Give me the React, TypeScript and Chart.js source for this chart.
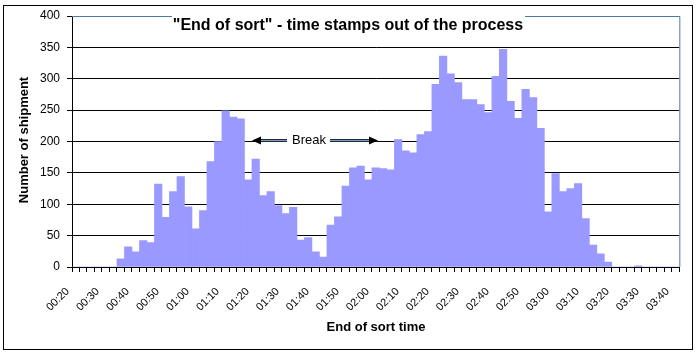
import React, { useEffect, useRef } from "react";
import { Chart, registerables } from "chart.js";

Chart.register(...registerables);

const TITLE = "\"End of sort\" - time stamps out of the process";
const Y_TITLE = "Number of shipment";
const X_TITLE = "End of sort time";
const ANNOTATION = "Break";

const TICK_LABELS = [
  "00:20", "00:30", "00:40", "00:50", "01:00", "01:10", "01:20", "01:30",
  "01:40", "01:50", "02:00", "02:10", "02:20", "02:30", "02:40", "02:50",
  "03:00", "03:10", "03:20", "03:30", "03:40",
];

const SHIPMENTS = [
  0, 0, 0, 0, 0, 0, 13, 32, 24, 42,
  39, 132, 79, 120, 144, 96, 61, 90, 168, 200,
  249, 239, 236, 139, 172, 114, 120, 98, 85, 95,
  43, 47, 24, 16, 67, 80, 129, 158, 161, 139,
  158, 157, 155, 203, 185, 182, 211, 216, 291, 336,
  308, 294, 267, 267, 259, 246, 304, 347, 264, 237,
  283, 270, 221, 88, 149, 120, 125, 133, 77, 35,
  21, 8, 0, 0, 0, 2, 0, 0, 0, 0,
  0,
];

const Y_MIN = 0;
const Y_MAX = 400;
const Y_STEP = 50;

const CATEGORIES: string[] = SHIPMENTS.map((_, i) =>
  i % 4 === 0 ? TICK_LABELS[i / 4] ?? "" : ""
);

const FONT = "'Liberation Sans', Arial, Helvetica, sans-serif";

const decor = {
  id: "decor",
  beforeDraw(chart: any) {
    const ctx = chart.ctx;
    ctx.save();
    ctx.fillStyle = "#ffffff";
    ctx.fillRect(0, 0, chart.width, chart.height);
    ctx.strokeStyle = "#000000";
    ctx.lineWidth = 1;
    ctx.strokeRect(3.5, 5.5, 689, 344);
    ctx.restore();
  },
  afterDraw(chart: any) {
    const ctx = chart.ctx;
    const a = chart.chartArea;
    ctx.save();
    // plot area border (top & right)
    ctx.strokeStyle = "#4f7aa5";
    ctx.lineWidth = 1;
    ctx.beginPath();
    ctx.moveTo(a.left, a.top + 0.5);
    ctx.lineTo(a.right + 0.5, a.top + 0.5);
    ctx.lineTo(a.right + 0.5, a.bottom);
    ctx.stroke();

    // title box
    ctx.fillStyle = "#ffffff";
    ctx.fillRect(172, 8, 353, 33);
    ctx.fillStyle = "#000000";
    ctx.font = `bold 16px ${FONT}`;
    ctx.textAlign = "center";
    ctx.textBaseline = "middle";
    ctx.fillText(TITLE, 348, 26);

    // axis titles
    ctx.font = `bold 13px ${FONT}`;
    ctx.save();
    ctx.translate(24, 140);
    ctx.rotate(-Math.PI / 2);
    ctx.fillText(Y_TITLE, 0, 0);
    ctx.restore();
    ctx.fillText(X_TITLE, 376, 327);

    // Break annotation
    const y = 140.5;
    ctx.fillStyle = "#ffffff";
    ctx.fillRect(287, 132, 43, 17);
    ctx.fillStyle = "#000000";
    ctx.font = `13px ${FONT}`;
    ctx.fillText(ANNOTATION, 309, 140);
    const seg = (x1: number, x2: number) => {
      ctx.lineWidth = 3;
      ctx.strokeStyle = "#1e2c3c";
      ctx.beginPath();
      ctx.moveTo(x1, y);
      ctx.lineTo(x2, y);
      ctx.stroke();
      ctx.lineWidth = 1;
      ctx.strokeStyle = "#7f9cc0";
      ctx.beginPath();
      ctx.moveTo(x1, y);
      ctx.lineTo(x2, y);
      ctx.stroke();
    };
    seg(258, 287);
    seg(330, 372);
    ctx.fillStyle = "#000000";
    ctx.beginPath();
    ctx.moveTo(252, y);
    ctx.lineTo(261, y - 4);
    ctx.lineTo(261, y + 4);
    ctx.closePath();
    ctx.fill();
    ctx.beginPath();
    ctx.moveTo(378, y);
    ctx.lineTo(369, y - 4);
    ctx.lineTo(369, y + 4);
    ctx.closePath();
    ctx.fill();
    ctx.restore();
  },
};

export default function App() {
  const ref = useRef<HTMLCanvasElement | null>(null);

  useEffect(() => {
    if (!ref.current) return;
    const chart = new Chart(ref.current, {
      type: "bar",
      data: {
        labels: CATEGORIES,
        datasets: [
          {
            data: SHIPMENTS,
            backgroundColor: "#9999ff",
            borderWidth: 0,
            categoryPercentage: 1,
            barPercentage: 1,
          },
        ],
      },
      options: {
        responsive: false,
        animation: false,
        devicePixelRatio: 1,
        layout: { padding: { left: 0, right: 15, top: 16, bottom: 0 } },
        plugins: {
          legend: { display: false },
          title: { display: false },
          tooltip: { enabled: false },
        },
        scales: {
          x: {
            offset: true,
            grid: {
              offset: true,
              drawOnChartArea: false,
              drawTicks: true,
              tickLength: 5,
              color: "#000000",
            },
            border: { display: true, color: "#000000", width: 1 },
            ticks: {
              autoSkip: false,
              maxRotation: 45,
              minRotation: 45,
              padding: 13,
              labelOffset: -8,
              color: "#000000",
              font: { family: FONT, size: 11 },
              callback: (_v: any, i: number) => CATEGORIES[i],
            },
            afterFit: (s: any) => {
              s.height = 89;
            },
          },
          y: {
            min: Y_MIN,
            max: Y_MAX,
            grid: {
              color: "#000000",
              lineWidth: 1,
              tickLength: 5,
            },
            border: { display: true, color: "#000000", width: 1 },
            ticks: {
              stepSize: Y_STEP,
              padding: 7,
              color: "#000000",
              font: { family: FONT, size: 12 },
            },
            afterFit: (s: any) => {
              s.width = 72;
            },
          },
        },
      },
      plugins: [decor],
    });
    return () => chart.destroy();
  }, []);

  return (
    <div style={{ position: "absolute", left: 0, top: 0, width: 698, height: 356 }}>
      <canvas ref={ref} width={698} height={356} style={{ width: 698, height: 356, display: "block" }} />
    </div>
  );
}
